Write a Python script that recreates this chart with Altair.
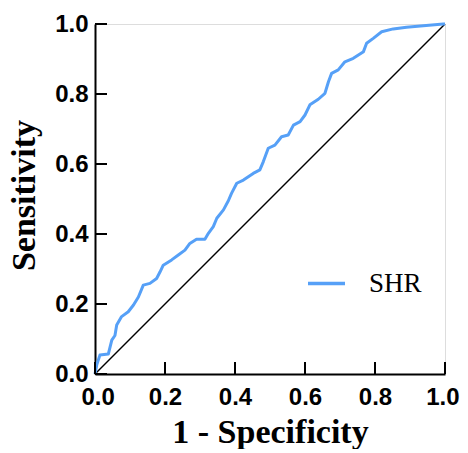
import altair as alt
import pandas as pd

# ROC curve points (1 - specificity, sensitivity)
fpr = [0.0, 0.005, 0.014, 0.038, 0.048, 0.057, 0.062, 0.076, 0.095, 0.11,
       0.124, 0.138, 0.157, 0.176, 0.186, 0.195, 0.219, 0.238, 0.257, 0.271,
       0.29, 0.314, 0.324, 0.338, 0.348, 0.367, 0.381, 0.39, 0.405, 0.424,
       0.452, 0.471, 0.481, 0.495, 0.514, 0.533, 0.552, 0.567, 0.586, 0.6,
       0.614, 0.638, 0.657, 0.667, 0.676, 0.695, 0.714, 0.738, 0.767, 0.776,
       0.795, 0.819, 0.852, 0.89, 0.938, 0.995, 1.0]
tpr = [0.0, 0.026, 0.054, 0.057, 0.097, 0.11, 0.14, 0.164, 0.178, 0.197,
       0.22, 0.254, 0.259, 0.273, 0.292, 0.311, 0.326, 0.34, 0.354, 0.373,
       0.385, 0.385, 0.402, 0.421, 0.445, 0.469, 0.495, 0.516, 0.545, 0.554,
       0.573, 0.583, 0.607, 0.645, 0.654, 0.678, 0.683, 0.711, 0.721, 0.74,
       0.769, 0.785, 0.802, 0.835, 0.859, 0.869, 0.892, 0.902, 0.921, 0.945,
       0.959, 0.978, 0.986, 0.991, 0.995, 1.0, 1.0]
series_name = "SHR"
diag_x = [0.0, 1.0]
diag_y = [0.0, 1.0]
tick_values = [0.0, 0.2, 0.4, 0.6, 0.8, 1.0]

roc = pd.DataFrame({"fpr": fpr, "tpr": tpr, "series": series_name,
                    "order": list(range(len(fpr)))})
diag = pd.DataFrame({"fpr": diag_x, "tpr": diag_y})
ticks = pd.DataFrame({"t": tick_values})

W, H = 350, 350
xscale = alt.Scale(domain=[0, 1], nice=False, zero=False)
yscale = alt.Scale(domain=[0, 1], nice=False, zero=False)

xaxis = alt.Axis(
    values=tick_values, format=".1f", grid=False, ticks=False, tickSize=0,
    labelFont="Liberation Sans", labelFontSize=24, labelFontWeight="bold",
    labelColor="black", labelPadding=11, labelFlush=True, labelFlushOffset=14,
    domainColor="black", domainWidth=2,
    title="1 - Specificity", titleFont="Liberation Serif", titleFontSize=34,
    titleFontWeight="bold", titleColor="black", titleX=175, titleY=68,
    titleBaseline="alphabetic", titleAlign="center",
)
yaxis = alt.Axis(
    values=tick_values, format=".1f", grid=False, ticks=False, tickSize=0,
    labelFont="Liberation Sans", labelFontSize=24, labelFontWeight="bold",
    labelColor="black", labelPadding=7, labelFlush=False,
    domainColor="black", domainWidth=2,
    title="Sensitivity", titleFont="Liberation Serif", titleFontSize=34,
    titleFontWeight="bold", titleColor="black", titleX=-61, titleY=171,
    titleAngle=270, titleBaseline="alphabetic", titleAlign="center",
)

diag_layer = alt.Chart(diag).mark_line(color="black", strokeWidth=1.5).encode(
    x=alt.X("fpr:Q", scale=xscale, axis=xaxis),
    y=alt.Y("tpr:Q", scale=yscale, axis=yaxis),
)

roc_layer = alt.Chart(roc).mark_line(strokeWidth=3, strokeJoin="round").encode(
    x=alt.X("fpr:Q", scale=xscale),
    y=alt.Y("tpr:Q", scale=yscale),
    order="order:Q",
    color=alt.Color(
        "series:N",
        scale=alt.Scale(domain=[series_name], range=["#56A0F7"]),
        legend=alt.Legend(
            title=None, orient="none", legendX=211, legendY=239,
            symbolType="stroke", symbolSize=1369, symbolStrokeWidth=3.5,
            labelFont="Liberation Serif", labelFontSize=27,
            labelColor="black", labelOffset=22, padding=0,
        ),
    ),
)

xtick_layer = alt.Chart(ticks).mark_rule(color="black", strokeWidth=2).encode(
    x=alt.X("t:Q", scale=xscale),
    y=alt.value(H),
    y2=alt.value(H - 12),
)
ytick_layer = alt.Chart(ticks).mark_rule(color="black", strokeWidth=2).encode(
    y=alt.Y("t:Q", scale=yscale),
    x=alt.value(0),
    x2=alt.value(12),
)

chart = alt.layer(diag_layer, roc_layer, xtick_layer, ytick_layer).properties(
    width=W, height=H,
    autosize=alt.AutoSizeParams(type="none"),
    padding={"left": 87, "top": 16, "right": 15, "bottom": 75},
).configure_view(stroke=None).configure(background="white")

chart.save("out.html", embed_options={"renderer": "svg", "actions": False})
